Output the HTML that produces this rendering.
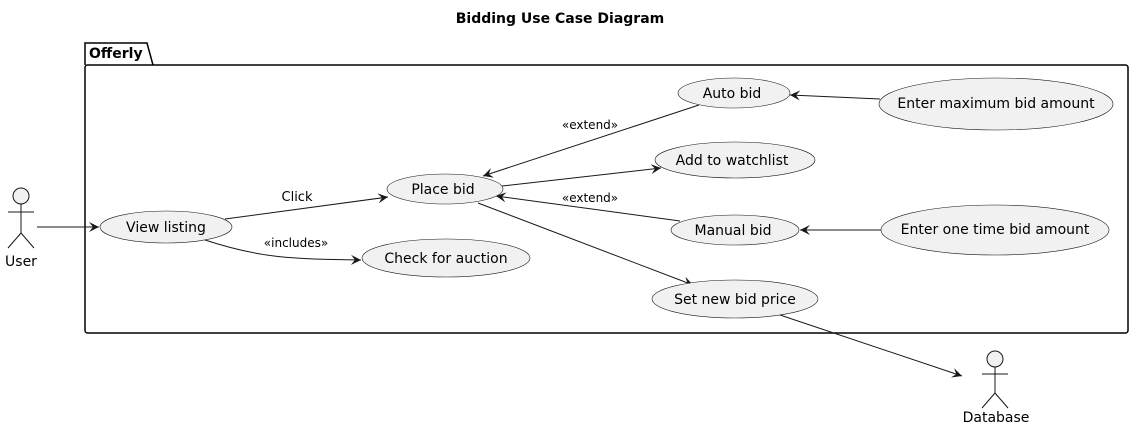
<!DOCTYPE html>
<html><head><meta charset="utf-8"><style>
html,body{margin:0;padding:0;background:#fff;}
svg{display:block;font-family:"DejaVu Sans","Liberation Sans",sans-serif;}
</style></head><body>
<svg width="1134" height="430" viewBox="0 0 1134 430" xmlns="http://www.w3.org/2000/svg">
<defs>
<marker id="a" viewBox="0 0 10 10" refX="10" refY="5" markerWidth="10" markerHeight="10" markerUnits="userSpaceOnUse" orient="auto">
<path d="M0,0 L10,5 L0,10 L4,5 Z" fill="#181818"/>
</marker>
</defs>
<text x="560" y="23" text-anchor="middle" font-size="14" font-weight="bold">Bidding Use Case Diagram</text>
<!-- package -->
<path d="M85,65 L85,43 L147,43 L153,65" fill="none" stroke="#000" stroke-width="1.5"/>
<rect x="85" y="65" width="1043" height="268" rx="2.5" fill="none" stroke="#000" stroke-width="1.5"/>
<text x="89" y="58" font-size="14" font-weight="bold">Offerly</text>
<!-- actors -->
<g stroke="#181818" fill="none" stroke-width="1">
<circle cx="21" cy="196" r="8" fill="#f1f1f1"/>
<path d="M21,204 V233 M8,212 H34 M21,233 L8,248 M21,233 L34,248"/>
<circle cx="995" cy="359" r="8" fill="#f1f1f1"/>
<path d="M995,367 V393 M982,374 H1008 M995,393 L982,408 M995,393 L1008,408"/>
</g>
<text x="21" y="266" text-anchor="middle" font-size="14">User</text>
<text x="996" y="422" text-anchor="middle" font-size="14">Database</text>
<!-- connectors -->
<g stroke="#181818" stroke-width="1" fill="none" marker-end="url(#a)">
<path d="M37,227 L99,227"/>
<path d="M225,219 L388,197"/>
<path d="M205,240 C260,258 290,259 361,260"/>
<path d="M699,105 L483,176"/>
<path d="M502,186 L661,168"/>
<path d="M680,221 L496,196"/>
<path d="M478,203 L693,285"/>
<path d="M880,99 L790,95"/>
<path d="M882,230 L800,230"/>
<path d="M780,315 L962,376"/>
</g>
<text x="297" y="201" text-anchor="middle" font-size="13">Click</text>
<text x="296" y="247" text-anchor="middle" font-size="12">«includes»</text>
<text x="590" y="129" text-anchor="middle" font-size="12">«extend»</text>
<text x="590" y="202" text-anchor="middle" font-size="12">«extend»</text>
<!-- use cases -->
<g fill="#f1f1f1" stroke="#181818" stroke-width="0.6">
<ellipse cx="166" cy="227" rx="66" ry="16"/>
<ellipse cx="445" cy="189" rx="58" ry="15"/>
<ellipse cx="446" cy="258" rx="84" ry="19"/>
<ellipse cx="734" cy="93" rx="56" ry="15"/>
<ellipse cx="735" cy="160" rx="80" ry="18"/>
<ellipse cx="735" cy="230" rx="64" ry="15"/>
<ellipse cx="735" cy="299" rx="83" ry="19"/>
<ellipse cx="996" cy="104" rx="117" ry="26"/>
<ellipse cx="995" cy="230" rx="114" ry="25"/>
</g>
<g font-size="14" text-anchor="middle">
<text x="166" y="232">View listing</text>
<text x="443" y="194">Place bid</text>
<text x="446" y="263">Check for auction</text>
<text x="732" y="98">Auto bid</text>
<text x="732" y="165">Add to watchlist</text>
<text x="733" y="235">Manual bid</text>
<text x="735" y="304">Set new bid price</text>
<text x="996" y="108">Enter maximum bid amount</text>
<text x="995" y="234">Enter one time bid amount</text>
</g>
</svg>
</body></html>
